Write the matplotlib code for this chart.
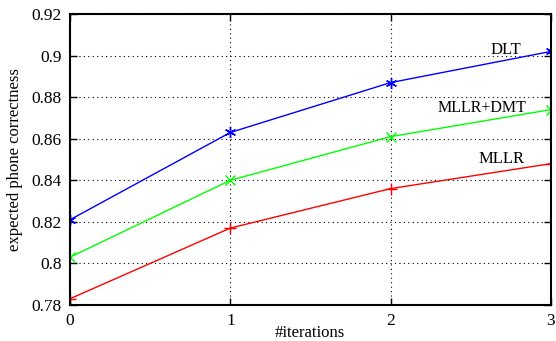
import matplotlib
matplotlib.use("Agg")
import matplotlib.pyplot as plt

iterations = [0, 1, 2, 3]
dlt = [0.821, 0.863, 0.887, 0.902]
mllr_dmt = [0.803, 0.840, 0.861, 0.874]
mllr = [0.783, 0.817, 0.836, 0.848]
yticks = [0.78, 0.8, 0.82, 0.84, 0.86, 0.88, 0.9, 0.92]
ytick_labels = ["0.78", "0.8", "0.82", "0.84", "0.86", "0.88", "0.9", "0.92"]

plt.rcParams['font.family'] = ['Liberation Serif', 'DejaVu Serif']
plt.rcParams['font.size'] = 12

fig = plt.figure(figsize=(5.56, 3.41), dpi=100)
ax = fig.add_axes([0.1259, 0.1056, 0.8651, 0.8534])

ax.plot(iterations, dlt, color=(0, 0, 1), lw=1, marker=(6, 2, 0), ms=8, mew=1)
ax.plot(iterations, mllr_dmt, color=(0, 1, 0), lw=1, marker='x', ms=7, mew=1)
ax.plot(iterations, mllr, color=(1, 0, 0), lw=1, marker='+', ms=8, mew=1)

ax.text(2.813, 0.9027, "DLT", ha='right', va='center', fontsize=12)
ax.text(2.844, 0.8750, "MLLR+DMT", ha='right', va='center', fontsize=11.5)
ax.text(2.832, 0.8500, "MLLR", ha='right', va='center', fontsize=12)

ax.set_xlim(0, 3)
ax.set_ylim(0.78, 0.92)
ax.set_xticks(iterations)
ax.set_yticks(yticks)
ax.set_yticklabels(ytick_labels)
ax.tick_params(direction='in', top=True, right=True, length=5, width=1, pad=6)
ax.tick_params(labelsize=12.5)
ax.grid(True, linestyle=(0, (1, 3)), color='black', lw=0.8)
for s in ax.spines.values():
    s.set_linewidth(1.5)
fig.text(310 / 556, 1 - 333 / 341, "#iterations", ha='center', va='center', fontsize=12)
fig.text(15 / 556, 0.5 * (0.1056 + 0.959), "expected phone correctness", ha='center', va='center',
         rotation=90, fontsize=12)

fig.savefig("out.png", dpi=100)
